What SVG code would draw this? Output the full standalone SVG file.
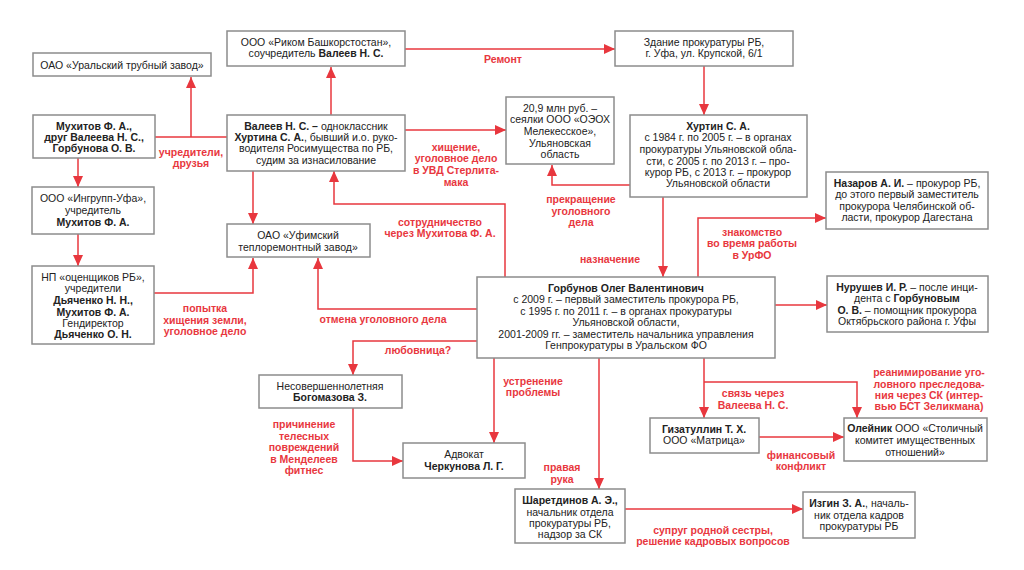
<svg xmlns="http://www.w3.org/2000/svg" width="1024" height="570" viewBox="0 0 1024 570">
<style>
.bg{fill:#ffffff}
.box{fill:#ffffff;stroke:#8c8c8c;stroke-width:1.5}
.t{font-family:"Liberation Sans",Arial,sans-serif;font-size:10.5px;fill:#222222;text-anchor:middle}
.b{font-weight:bold}
.lbl{font-family:"Liberation Sans",Arial,sans-serif;font-size:10.5px;font-weight:bold;fill:#e8373e;text-anchor:middle}
.ln{fill:none;stroke:#e8373e;stroke-width:1.5}
</style>
<defs>
<marker id="ah" markerUnits="userSpaceOnUse" markerWidth="12" markerHeight="11" refX="11" refY="5" orient="auto">
<path d="M0,0 L11,5 L0,10 z" fill="#e8373e"/>
</marker>
</defs>
<rect class="bg" x="0" y="0" width="1024" height="570"/>

<g id="connectors">
<path class="ln" d="M155,137 H227"/>
<path class="ln" d="M191,137 V77" marker-end="url(#ah)"/>
<path class="ln" d="M78,158 V187" marker-end="url(#ah)"/>
<path class="ln" d="M78,234 V266" marker-end="url(#ah)"/>
<path class="ln" d="M331,115 V67" marker-end="url(#ah)"/>
<path class="ln" d="M405,49 H615" marker-end="url(#ah)"/>
<path class="ln" d="M405,130 H506" marker-end="url(#ah)"/>
<path class="ln" d="M704,66 V115" marker-end="url(#ah)"/>
<path class="ln" d="M630,185 H552 V165" marker-end="url(#ah)"/>
<path class="ln" d="M663,197 V277" marker-end="url(#ah)"/>
<path class="ln" d="M253,171 V224" marker-end="url(#ah)"/>
<path class="ln" d="M505,277 V204 H334 V171" marker-end="url(#ah)"/>
<path class="ln" d="M154,293 H253 V258" marker-end="url(#ah)"/>
<path class="ln" d="M477,309 H318 V258" marker-end="url(#ah)"/>
<path class="ln" d="M477,341 H353 V375" marker-end="url(#ah)"/>
<path class="ln" d="M494,358 V443" marker-end="url(#ah)"/>
<path class="ln" d="M353,408 V461 H403" marker-end="url(#ah)"/>
<path class="ln" d="M599,358 V489" marker-end="url(#ah)"/>
<path class="ln" d="M704,358 V418" marker-end="url(#ah)"/>
<path class="ln" d="M704,382 H857 V418" marker-end="url(#ah)"/>
<path class="ln" d="M759,437 H844" marker-end="url(#ah)"/>
<path class="ln" d="M698,277 V218 H826" marker-end="url(#ah)"/>
<path class="ln" d="M775,305 H827" marker-end="url(#ah)"/>
<path class="ln" d="M625,509 H803" marker-end="url(#ah)"/>
</g>

<g id="labels">
<text class="lbl"><tspan x="191" y="156">учредители,</tspan><tspan x="191" y="167">друзья</tspan></text>
<text class="lbl" x="503" y="63">Ремонт</text>
<text class="lbl"><tspan x="456" y="151">хищение,</tspan><tspan x="456" y="162">уголовное дело</tspan><tspan x="456" y="174">в УВД Стерлита-</tspan><tspan x="456" y="186">мака</tspan></text>
<text class="lbl"><tspan x="581" y="203">прекращение</tspan><tspan x="581" y="215">уголовного</tspan><tspan x="581" y="226">дела</tspan></text>
<text class="lbl" x="610" y="263">назначение</text>
<text class="lbl"><tspan x="752" y="236">знакомство</tspan><tspan x="752" y="247">во время работы</tspan><tspan x="752" y="259">в УрФО</tspan></text>
<text class="lbl"><tspan x="440" y="226">сотрудничество</tspan><tspan x="440" y="237">через Мухитова Ф. А.</tspan></text>
<text class="lbl"><tspan x="205" y="312">попытка</tspan><tspan x="205" y="324">хищения земли,</tspan><tspan x="205" y="335">уголовное дело</tspan></text>
<text class="lbl" x="383" y="323">отмена уголовного дела</text>
<text class="lbl" x="418" y="354">любовница?</text>
<text class="lbl"><tspan x="533" y="385">устренение</tspan><tspan x="533" y="396">проблемы</tspan></text>
<text class="lbl"><tspan x="304" y="428">причинение</tspan><tspan x="304" y="440">телесных</tspan><tspan x="304" y="451">повреждений</tspan><tspan x="304" y="463">в Менделеев</tspan><tspan x="304" y="474">фитнес</tspan></text>
<text class="lbl"><tspan x="562" y="471">правая</tspan><tspan x="562" y="483">рука</tspan></text>
<text class="lbl"><tspan x="753" y="397">связь через</tspan><tspan x="753" y="409">Валеева Н. С.</tspan></text>
<text class="lbl"><tspan x="929" y="376">реанимирование уго-</tspan><tspan x="929" y="388">ловного преследова-</tspan><tspan x="929" y="399">ния через СК (интер-</tspan><tspan x="929" y="410">вью БСТ Зеликмана)</tspan></text>
<text class="lbl"><tspan x="801" y="459">финансовый</tspan><tspan x="801" y="470">конфликт</tspan></text>
<text class="lbl"><tspan x="713" y="534">супруг родной сестры,</tspan><tspan x="713" y="545">решение кадровых вопросов</tspan></text>
</g>

<g id="n-uraltrub">
<rect class="box" x="33" y="53" width="178" height="23"/>
<text class="t" x="122" y="69">ОАО «Уральский трубный завод»</text>
</g>

<g id="n-rikom">
<rect class="box" x="227" y="31" width="178" height="35"/>
<text class="t"><tspan x="316" y="46">ООО «Риком Башкорстостан»,</tspan><tspan x="316" y="57">соучредитель <tspan class="b">Валеев Н. С.</tspan></tspan></text>
</g>

<g id="n-mukhitov">
<rect class="box" x="33" y="115" width="122" height="43"/>
<text class="t b"><tspan x="94" y="130">Мухитов Ф. А.,</tspan><tspan x="94" y="141">друг Валеева Н. С.,</tspan><tspan x="94" y="152">Горбунова О. В.</tspan></text>
</g>

<g id="n-valeev">
<rect class="box" x="227" y="115" width="178" height="56"/>
<text class="t"><tspan x="316" y="130"><tspan class="b">Валеев Н. С. –</tspan> одноклассник</tspan><tspan x="316" y="141"><tspan class="b">Хуртина С. А.</tspan>, бывший и.о. руко-</tspan><tspan x="316" y="152">водителя Росимущества по РБ,</tspan><tspan x="316" y="164">судим за изнасилование</tspan></text>
</g>

<g id="n-zdanie">
<rect class="box" x="615" y="31" width="178" height="35"/>
<text class="t"><tspan x="704" y="46">Здание прокуратуры РБ,</tspan><tspan x="704" y="57">г. Уфа, ул. Крупской, 6/1</tspan></text>
</g>

<g id="n-seyalki">
<rect class="box" x="506" y="97" width="108" height="67"/>
<text class="t"><tspan x="560" y="112">20,9 млн руб. –</tspan><tspan x="560" y="123">сеялки ООО «ОЭОХ</tspan><tspan x="560" y="135">Мелекесское»,</tspan><tspan x="560" y="147">Ульяновская</tspan><tspan x="560" y="158">область</tspan></text>
</g>

<g id="n-khurtin">
<rect class="box" x="630" y="115" width="177" height="82"/>
<text class="t"><tspan class="b" x="718" y="130">Хуртин С. А.</tspan><tspan x="718" y="141">с 1984 г. по 2005 г. – в органах</tspan><tspan x="718" y="153">прокуратуры Ульяновской обла-</tspan><tspan x="718" y="165">сти, с 2005 г. по 2013 г. – про-</tspan><tspan x="718" y="176">курор РБ, с 2013 г. – прокурор</tspan><tspan x="718" y="187">Ульяновской области</tspan></text>
</g>

<g id="n-nazarov">
<rect class="box" x="826" y="172" width="162" height="57"/>
<text class="t"><tspan x="907" y="187"><tspan class="b">Назаров А. И.</tspan> – прокурор РБ,</tspan><tspan x="907" y="198">до этого первый заместитель</tspan><tspan x="907" y="210">прокурора Челябинской об-</tspan><tspan x="907" y="221">ласти, прокурор Дагестана</tspan></text>
</g>

<g id="n-nurushev">
<rect class="box" x="827" y="276" width="161" height="56"/>
<text class="t"><tspan x="907" y="291"><tspan class="b">Нурушев И. Р.</tspan> – после инци-</tspan><tspan x="907" y="302">дента с <tspan class="b">Горбуновым</tspan></tspan><tspan x="907" y="314"><tspan class="b">О. В.</tspan> – помощник прокурора</tspan><tspan x="907" y="325">Октябрьского района г. Уфы</tspan></text>
</g>

<g id="n-ingrupp">
<rect class="box" x="32" y="187" width="122" height="47"/>
<text class="t"><tspan x="93" y="202">ООО «Ингрупп-Уфа»,</tspan><tspan x="93" y="214">учредитель</tspan><tspan class="b" x="93" y="226">Мухитов Ф. А.</tspan></text>
</g>

<g id="n-np">
<rect class="box" x="32" y="266" width="122" height="78"/>
<text class="t"><tspan x="93" y="281">НП «оценщиков РБ»,</tspan><tspan x="93" y="292">учредители</tspan><tspan class="b" x="93" y="304">Дьяченко Н. Н.,</tspan><tspan class="b" x="93" y="316">Мухитов Ф. А.</tspan><tspan x="93" y="327">Гендиректор</tspan><tspan class="b" x="93" y="338">Дьяченко О. Н.</tspan></text>
</g>

<g id="n-ufimsky">
<rect class="box" x="227" y="224" width="143" height="33"/>
<text class="t"><tspan x="298" y="239">ОАО «Уфимский</tspan><tspan x="298" y="251">теплоремонтный завод»</tspan></text>
</g>

<g id="n-gorbunov">
<rect class="box" x="477" y="277" width="298" height="81"/>
<text class="t"><tspan class="b" x="626" y="292">Горбунов Олег Валентинович</tspan><tspan x="626" y="303">с 2009 г. – первый заместитель прокурора РБ,</tspan><tspan x="626" y="315">с 1995 г. по 2011 г. – в органах прокуратуры</tspan><tspan x="626" y="326">Ульяновской области,</tspan><tspan x="626" y="338">2001-2009 гг. – заместитель начальника управления</tspan><tspan x="626" y="349">Генпрокуратуры в Уральском ФО</tspan></text>
</g>

<g id="n-bogomazova">
<rect class="box" x="259" y="375" width="143" height="33"/>
<text class="t"><tspan x="330" y="390">Несовершеннолетняя</tspan><tspan class="b" x="330" y="401">Богомазова З.</tspan></text>
</g>

<g id="n-cherkunova">
<rect class="box" x="403" y="443" width="122" height="35"/>
<text class="t"><tspan x="464" y="458">Адвокат</tspan><tspan class="b" x="464" y="470">Черкунова Л. Г.</tspan></text>
</g>

<g id="n-gizatullin">
<rect class="box" x="650" y="418" width="109" height="35"/>
<text class="t"><tspan class="b" x="704" y="433">Гизатуллин Т. Х.</tspan><tspan x="704" y="444">ООО «Матрица»</tspan></text>
</g>

<g id="n-oleynik">
<rect class="box" x="844" y="418" width="143" height="43"/>
<text class="t"><tspan x="915" y="432"><tspan class="b">Олейник</tspan> ООО «Столичный</tspan><tspan x="915" y="444">комитет имущественных</tspan><tspan x="915" y="456">отношений»</tspan></text>
</g>

<g id="n-sharetdinov">
<rect class="box" x="515" y="489" width="110" height="54"/>
<text class="t"><tspan class="b" x="570" y="504">Шаретдинов А. Э.,</tspan><tspan x="570" y="516">начальник отдела</tspan><tspan x="570" y="527">прокуратуры РБ,</tspan><tspan x="570" y="538">надзор за СК</tspan></text>
</g>

<g id="n-izgin">
<rect class="box" x="803" y="492" width="112" height="46"/>
<text class="t"><tspan x="859" y="507"><tspan class="b">Изгин З. А.</tspan>, началь-</tspan><tspan x="859" y="519">ник отдела кадров</tspan><tspan x="859" y="530">прокуратуры РБ</tspan></text>
</g>
</svg>
